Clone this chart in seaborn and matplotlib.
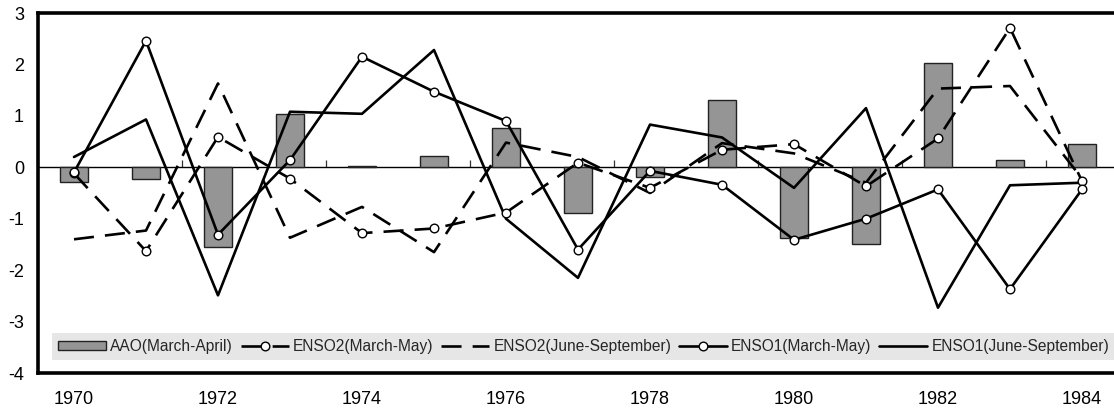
import numpy as np
import pandas as pd
import matplotlib
matplotlib.use("Agg")
import matplotlib.pyplot as plt
import seaborn as sns

years = list(range(1970, 1985))
aao_mar_apr = [-0.28, -0.22, -1.55, 1.03, 0.02, 0.22, 0.77, -0.88, -0.18, 1.30, -1.37, -1.49, 2.03, 0.14, 0.46]
enso2_mar_may = [-0.12, -1.63, 0.59, -0.22, -1.28, -1.19, -0.88, 0.09, -0.40, 0.34, 0.45, -0.37, 0.56, 2.71, -0.27]
enso2_jun_sep = [-1.40, -1.23, 1.63, -1.37, -0.77, -1.65, 0.48, 0.20, -0.50, 0.47, 0.27, -0.30, 1.53, 1.58, -0.22]
enso1_mar_may = [-0.10, 2.46, -1.31, 0.14, 2.15, 1.47, 0.90, -1.60, -0.07, -0.34, -1.41, -1.00, -0.43, -2.37, -0.43]
enso1_jun_sep = [0.20, 0.93, -2.49, 1.08, 1.04, 2.28, -1.00, -2.15, 0.83, 0.58, -0.40, 1.15, -2.73, -0.35, -0.30]
labels = ["AAO(March-April)", "ENSO2(March-May)", "ENSO2(June-September)",
          "ENSO1(March-May)", "ENSO1(June-September)"]
xtick_labels = [str(y) for y in range(1970, 1985, 2)]

sns.set_theme(style="white")
plt.rcParams['font.family'] = ['Liberation Sans', 'DejaVu Sans']

fig = plt.figure(figsize=(11.14, 4.12), dpi=100)
ax = fig.add_axes([38/1114, 39/412, 1 - 38/1114, 360/412])

df = pd.DataFrame({"year": years, "aao": aao_mar_apr})
sns.barplot(data=df, x="year", y="aao", native_scale=True, width=0.4,
            color="#959595", saturation=1, edgecolor="#222222", linewidth=1,
            label=labels[0], ax=ax, zorder=2)

lw = 1.9
dash = (0, (7.6, 4.2))
mk = dict(marker="o", markersize=6.2, markerfacecolor="white",
          markeredgecolor="black", markeredgewidth=1.0)
sns.lineplot(x=years, y=enso2_mar_may, color="black", lw=lw, linestyle=dash,
             label=labels[1], ax=ax, zorder=4, **mk)
sns.lineplot(x=years, y=enso2_jun_sep, color="black", lw=lw, linestyle=dash,
             label=labels[2], ax=ax, zorder=3)
sns.lineplot(x=years, y=enso1_mar_may, color="black", lw=lw,
             label=labels[3], ax=ax, zorder=4, **mk)
sns.lineplot(x=years, y=enso1_jun_sep, color="black", lw=lw,
             label=labels[4], ax=ax, zorder=3)

ax.set_xlim(1969.5, 1969.5 + 1076/72)
ax.set_ylim(-4, 3)
ax.set_yticks(range(-4, 4))
ax.set_yticklabels([str(v) for v in range(-4, 4)])
ax.set_xticks(range(1970, 1985, 2))
ax.set_xticklabels(xtick_labels)
ax.set_xlabel("")
ax.set_ylabel("")
ax.tick_params(axis="both", length=0, labelsize=13, colors="black")
ax.tick_params(axis="x", pad=13)
ax.tick_params(axis="y", pad=10)

for side in ["top", "left", "bottom"]:
    ax.spines[side].set_visible(True)
    ax.spines[side].set_linewidth(2.6)
    ax.spines[side].set_color("black")
ax.spines["right"].set_visible(False)

# zero line with category tick marks
sec = ax.secondary_xaxis(4/7)
sec.set_xticks(np.arange(1971.5, 1984, 2))
sec.set_xticklabels([])
sec.tick_params(axis="x", direction="out", length=5, width=0.9, colors="#333333")
for s in ["top", "bottom"]:
    sec.spines[s].set_linewidth(1.0)
    sec.spines[s].set_color("black")

handles, labs = ax.get_legend_handles_labels()
order = [labs.index(l) for l in labels]
leg = ax.legend([handles[i] for i in order], [labs[i] for i in order],
                loc="lower left", bbox_to_anchor=(14/1076, 13/360),
                ncol=5, fontsize=11.2, frameon=True, fancybox=False,
                facecolor="#e6e6e6", edgecolor="none", framealpha=1,
                handlelength=3.1, handleheight=0.5, handletextpad=0.25,
                columnspacing=0.5, borderpad=0.4, borderaxespad=0,
                numpoints=1)
leg.set_zorder(10)

fig.savefig("out.png", dpi=100)
